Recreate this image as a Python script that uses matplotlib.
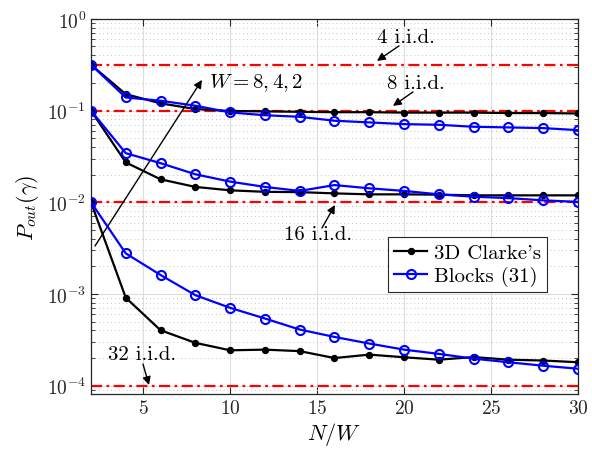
import matplotlib
matplotlib.use("Agg")
import matplotlib.pyplot as plt
from matplotlib.ticker import LogLocator, NullFormatter
import numpy as np

plt.rcParams['font.family'] = ['cmr10', 'DejaVu Serif']
plt.rcParams['mathtext.fontset'] = 'cm'
plt.rcParams['axes.formatter.use_mathtext'] = True

x = [2, 4, 6, 8, 10, 12, 14, 16, 18, 20, 22, 24, 26, 28, 30]

clarke_w8 = [0.316, 0.151, 0.120, 0.104, 0.099, 0.098, 0.097, 0.096, 0.096, 0.095, 0.095, 0.095, 0.094, 0.094, 0.093]
blocks_w8 = [0.316, 0.139, 0.128, 0.113, 0.0955, 0.089, 0.0855, 0.0775, 0.0743, 0.0712, 0.070, 0.0666, 0.0655, 0.0644, 0.0612]

clarke_w4 = [0.1, 0.0272, 0.0178, 0.0147, 0.0135, 0.0130, 0.0129, 0.0125, 0.0122, 0.0122, 0.0121, 0.0119, 0.0119, 0.0119, 0.0119]
blocks_w4 = [0.1, 0.0343, 0.0267, 0.0202, 0.0168, 0.0147, 0.0133, 0.0154, 0.0142, 0.0133, 0.0122, 0.0115, 0.0111, 0.0105, 0.0101]

clarke_w2 = [0.01, 9.1e-4, 4.02e-4, 2.93e-4, 2.43e-4, 2.47e-4, 2.38e-4, 2.0e-4, 2.18e-4, 2.04e-4, 1.92e-4, 2.05e-4, 1.92e-4, 1.88e-4, 1.80e-4]
blocks_w2 = [0.01, 2.77e-3, 1.61e-3, 9.7e-4, 7.06e-4, 5.4e-4, 4.09e-4, 3.4e-4, 2.88e-4, 2.47e-4, 2.22e-4, 1.97e-4, 1.80e-4, 1.65e-4, 1.53e-4]

iid_levels = [0.316, 0.1, 0.01, 1e-4]
iid_labels = ['4 i.i.d.', '8 i.i.d.', '16 i.i.d.', '32 i.i.d.']

fig = plt.figure(figsize=(5.92, 4.52), dpi=100)
ax = fig.add_axes([0.1537, 0.126, 0.8226, 0.830])

# axes-fraction helper from reference pixel positions (layout only)
L, R, T, B = 91.0, 578.0, 20.0, 395.0
def af(px, py):
    return ((px - L) / (R - L), 1 - (py - T) / (B - T))

for lvl in iid_levels:
    ax.axhline(lvl, color='#ff0000', linestyle=(0, (5, 2, 1.2, 2)), linewidth=1.6, zorder=2)

black_kw = dict(color='black', marker='o', markersize=4.3, linewidth=1.6, zorder=3)
blue_kw = dict(color='#0000ff', marker='o', markersize=6.5, markerfacecolor='none',
               markeredgewidth=1.5, linewidth=1.6, zorder=4)

ax.plot(x, clarke_w8, label="3D Clarke's", **black_kw)
ax.plot(x, blocks_w8, label='Blocks (31)', **blue_kw)
ax.plot(x, clarke_w4, **black_kw)
ax.plot(x, blocks_w4, **blue_kw)
ax.plot(x, clarke_w2, **black_kw)
ax.plot(x, blocks_w2, **blue_kw)

ax.set_yscale('log')
ax.set_xlim(2, 30)
ax.set_ylim(8.1e-5, 1)
ax.set_xticks([5, 10, 15, 20, 25, 30])
ax.yaxis.set_major_locator(LogLocator(base=10, numticks=10))
ax.yaxis.set_minor_locator(LogLocator(base=10, subs=np.arange(2, 10), numticks=20))
ax.yaxis.set_minor_formatter(NullFormatter())

ax.grid(True, which='major', color='#dddddd', linewidth=0.8, linestyle='-', zorder=0)
ax.grid(True, which='minor', axis='y', color='#c4c4c4', linewidth=0.7, linestyle=(0, (1, 3)), zorder=0)
ax.set_axisbelow(True)

ax.tick_params(which='both', direction='in', top=True, right=True, labelsize=14, colors='#262626')
ax.tick_params(which='major', length=5)
ax.tick_params(which='minor', length=3)
for s in ax.spines.values():
    s.set_color('#262626')
    s.set_linewidth(0.9)

ax.set_xlabel(r'$N/W$', fontsize=16, labelpad=2)
ax.set_ylabel(r'$P_{out}(\gamma)$', fontsize=16, labelpad=4)

arrow = dict(arrowstyle='-|>', color='black', lw=1.0, mutation_scale=12, shrinkA=0, shrinkB=0)
tk = dict(xycoords='axes fraction', textcoords='axes fraction', arrowprops=arrow)

ax.annotate('', xy=af(377, 62), xytext=af(399, 47), **tk)
ax.text(*af(406, 38), iid_labels[0], transform=ax.transAxes, fontsize=15, ha='center', va='center')
ax.annotate('', xy=af(393, 107), xytext=af(413, 93), **tk)
ax.text(*af(416, 84), iid_labels[1], transform=ax.transAxes, fontsize=15, ha='center', va='center')
ax.annotate('', xy=af(335, 206), xytext=af(322, 229), **tk)
ax.text(*af(318, 235), iid_labels[2], transform=ax.transAxes, fontsize=15, ha='center', va='center')
ax.annotate('', xy=af(149, 386), xytext=af(143, 365), **tk)
ax.text(*af(142, 355), iid_labels[3], transform=ax.transAxes, fontsize=15, ha='center', va='center')

ax.annotate('', xy=af(202, 81), xytext=af(95, 247), **tk)
ax.text(*af(209, 83), r'$W = 8, 4, 2$', transform=ax.transAxes, fontsize=15, ha='left', va='center')

leg = ax.legend(loc='upper right', bbox_to_anchor=af(547, 238), fontsize=15,
                frameon=True, fancybox=False, edgecolor='#262626', framealpha=1,
                handlelength=1.6, handletextpad=0.3, borderpad=0.3, labelspacing=0.2,
                borderaxespad=0)
leg.get_frame().set_linewidth(0.8)

fig.savefig('out.png', dpi=100)
